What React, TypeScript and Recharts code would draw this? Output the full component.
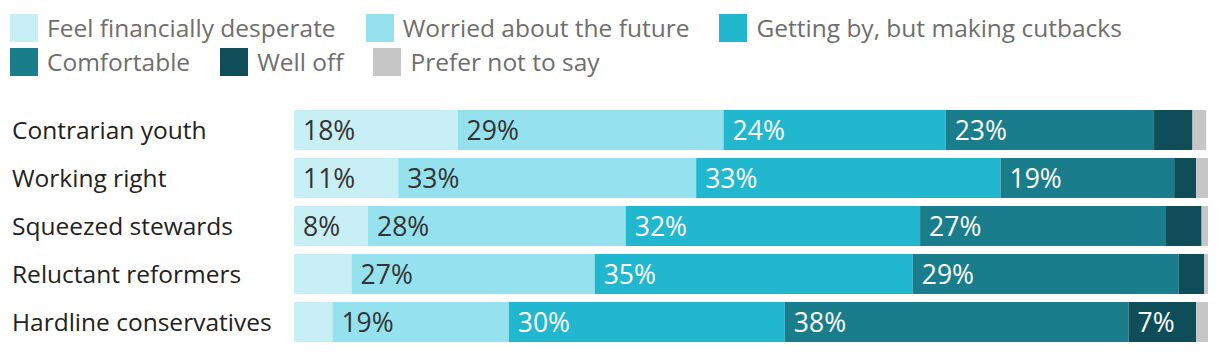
import { Bar, BarChart, LabelList, XAxis, YAxis } from "recharts";

// segments per group, in % of respondents
const groups = [
  "Contrarian youth",
  "Working right",
  "Squeezed stewards",
  "Reluctant reformers",
  "Hardline conservatives",
];
const desperate = [17.9, 11.4, 8.1, 6.3, 4.2];
const worried = [29.1, 32.6, 28.2, 26.6, 19.3];
const gettingBy = [24.3, 33.3, 32.2, 34.8, 30.2];
const comfortable = [22.8, 19.0, 26.9, 29.1, 37.6];
const wellOff = [4.2, 2.4, 3.9, 2.8, 7.4];
const preferNot = [1.5, 1.3, 0.7, 0.4, 1.3];

const seriesKeys = ["desperate", "worried", "gettingBy", "comfortable", "wellOff", "preferNot"];
const seriesNames = [
  "Feel financially desperate",
  "Worried about the future",
  "Getting by, but making cutbacks",
  "Comfortable",
  "Well off",
  "Prefer not to say",
];
const colors = ["#c9eff6", "#95e2ee", "#21b7cf", "#1a7d8c", "#0f4d58", "#c6c6c6"];
const labelColors = ["#333", "#333", "#fff", "#fff", "#fff", "#fff"];

const data = groups.map((name, i) => ({
  name,
  desperate: desperate[i],
  worried: worried[i],
  gettingBy: gettingBy[i],
  comfortable: comfortable[i],
  wellOff: wellOff[i],
  preferNot: preferNot[i],
}));

const FONT = "'Open Sans', sans-serif";

function GroupTick({ y, payload }: any) {
  return (
    <text x={12} y={y} dy={9} fill="#222" fontSize={24.5} fontFamily={FONT} textAnchor="start">
      {payload.value}
    </text>
  );
}

const makeLabel = (color: string) => (props: any) => {
  const { x, y, height, value } = props;
  if (value == null || value < 7) return null;
  return (
    <text
      x={x + 9}
      y={y + height / 2}
      dy={9.5}
      fill={color}
      fontSize={26.5}
      fontFamily={FONT}
      textAnchor="start"
    >
      {Math.round(value)}%
    </text>
  );
};

function LegendRow({ idx }: { idx: number[] }) {
  return (
    <div style={{ display: "flex", alignItems: "center", height: 28, marginBottom: 6 }}>
      {idx.map((i) => (
        <div key={i} style={{ display: "flex", alignItems: "center", marginRight: 30 }}>
          <span style={{ width: 28, height: 28, background: colors[i], display: "inline-block" }} />
          <span
            style={{
              marginLeft: 9,
              color: "#6e6e6e",
              fontSize: 24.5,
              lineHeight: "28px",
              fontFamily: FONT,
              whiteSpace: "nowrap",
            }}
          >
            {seriesNames[i]}
          </span>
        </div>
      ))}
    </div>
  );
}

export default function App() {
  return (
    <div style={{ position: "absolute", left: 0, top: 0, width: 1220, height: 354, background: "#fff" }}>
      <div style={{ position: "absolute", left: 10, top: 14 }}>
        <LegendRow idx={[0, 1, 2]} />
        <LegendRow idx={[3, 4, 5]} />
      </div>
      <BarChart
        width={1220}
        height={354}
        data={data}
        layout="vertical"
        margin={{ top: 106, right: 12, bottom: 8, left: 0 }}
        style={{ position: "absolute", left: 0, top: 0 }}
      >
        <XAxis type="number" domain={[0, 100]} hide />
        <YAxis
          type="category"
          dataKey="name"
          width={294}
          axisLine={false}
          tickLine={false}
          tick={<GroupTick />}
        />
        {seriesKeys.map((key, i) => (
          <Bar
            key={key}
            dataKey={key}
            stackId="a"
            fill={colors[i]}
            barSize={40}
            isAnimationActive={false}
          >
            <LabelList dataKey={key} content={makeLabel(labelColors[i])} />
          </Bar>
        ))}
      </BarChart>
    </div>
  );
}
